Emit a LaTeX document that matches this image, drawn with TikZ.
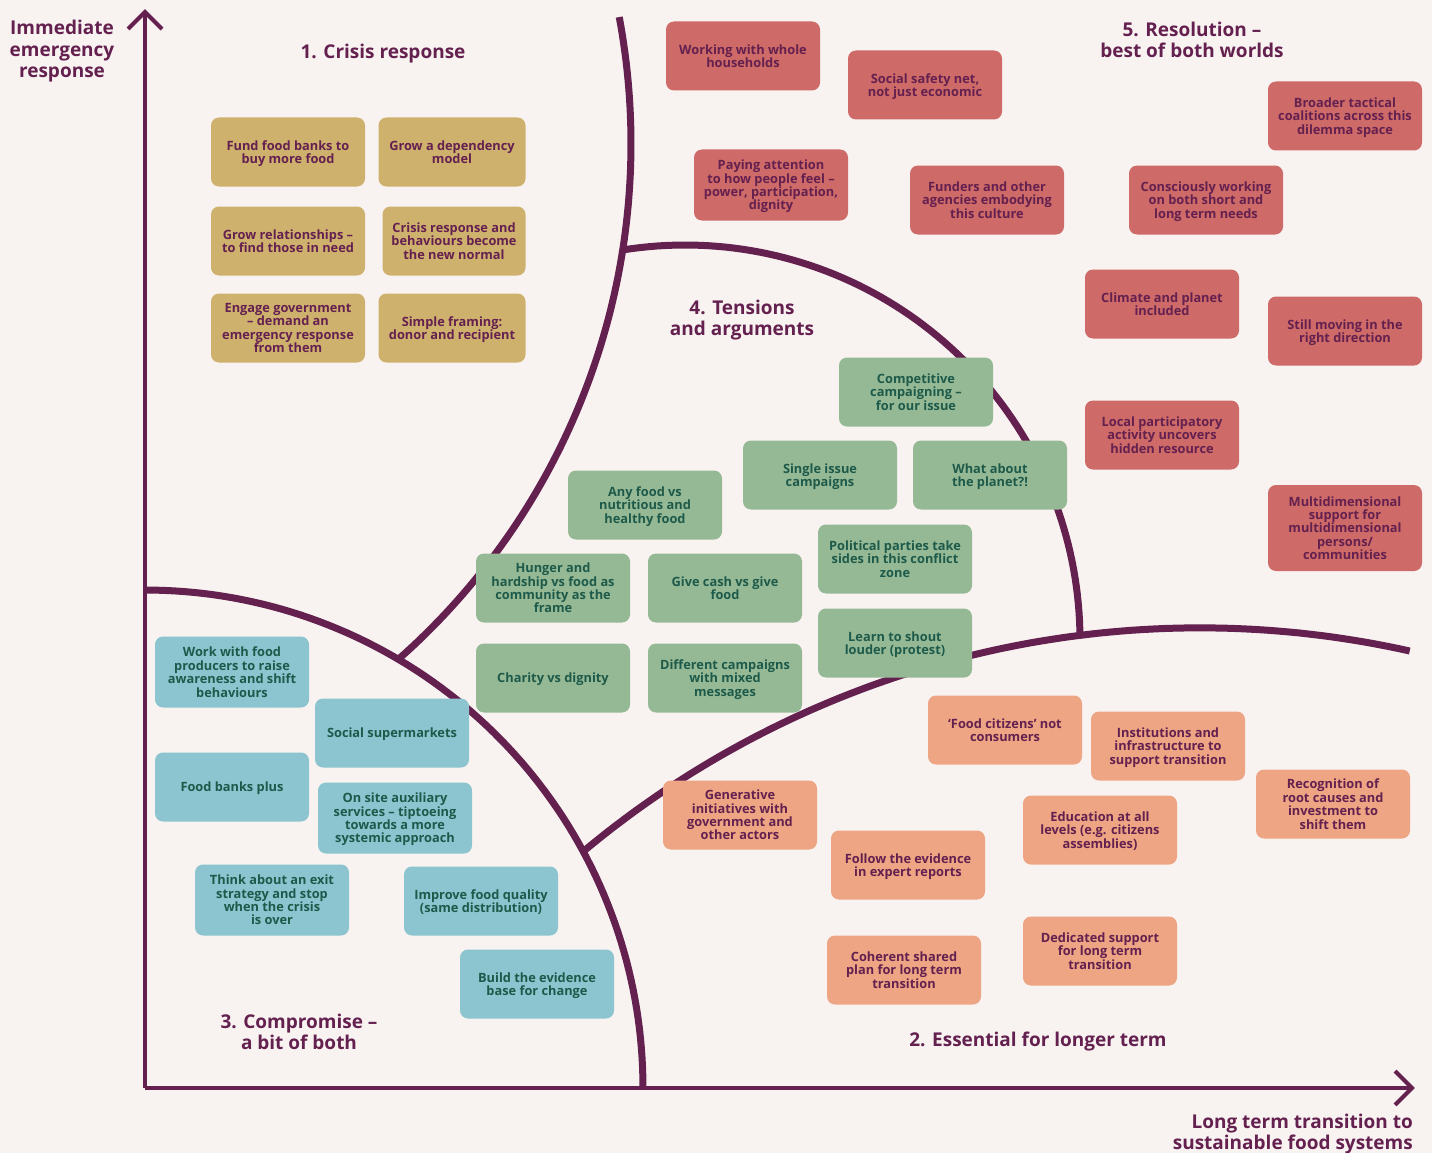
\documentclass[tikz,border=0pt]{standalone}
\usepackage{fontspec}
\setmainfont{Open Sans}
\usetikzlibrary{calc}
\definecolor{bgc}{HTML}{F8F3F1}
\definecolor{cpurple}{HTML}{64204F}
\definecolor{cgold}{HTML}{CFB16E}
\definecolor{cred}{HTML}{CE6A67}
\definecolor{cgreen}{HTML}{96B995}
\definecolor{cblue}{HTML}{8CC5D0}
\definecolor{corange}{HTML}{EDA583}
\definecolor{cdgreen}{HTML}{1D5A4A}
\begin{document}
\begin{tikzpicture}[x=1pt,y=-1pt,
  box/.style={rounded corners=8pt, minimum width=154pt, minimum height=69pt, align=center, inner sep=0pt,
    text depth=-3pt, font=\bfseries\fontsize{12.8}{13.4}\selectfont},
  goldbox/.style={box, fill=cgold, text=cpurple},
  redbox/.style={box, fill=cred, text=cpurple},
  greenbox/.style={box, fill=cgreen, text=cdgreen},
  bluebox/.style={box, fill=cblue, text=cdgreen},
  orangebox/.style={box, fill=corange, text=cpurple},
  curve/.style={draw=cpurple, line width=7pt},
  axisline/.style={draw=cpurple, line width=4pt},
  ttl/.style={text=cpurple, align=center, inner sep=0pt, text depth=-1.5pt, font=\bfseries\fontsize{19}{21.5}\selectfont}]
\useasboundingbox[fill=bgc] (0,0) rectangle (1432,1153);

% axes
\coordinate (O) at (145,1088);
\coordinate (ytop) at (145,12);
\coordinate (xend) at (1412,1088);
\draw[axisline] (O) -- (ytop);
\draw[axisline] ($(ytop)+(-17,17)$) -- (ytop) -- ($(ytop)+(17,17)$);
\draw[axisline] (O) -- (xend);
\draw[axisline] ($(xend)+(-17,-17)$) -- (xend) -- ($(xend)+(-17,17)$);

% region boundaries
\draw[curve] plot[domain=-10.6:48.4, samples=80] ({-57+688*cos(\x)}, {143.6+688*sin(\x)});
\draw[curve] plot[domain=-90:0, samples=80] ({145+498*cos(\x)}, {1088+498*sin(\x)});
\draw[curve] plot[domain=-99:-0.3, samples=80] ({685+395*cos(\x)}, {640+395*sin(\x)});
\draw[curve] plot[domain=-130:-77.4, samples=80] ({1199.9+962*cos(\x)}, {1589.8+962*sin(\x)});

% titles
\node[ttl] (tY) at (62,49) {Immediate\\emergency\\response};
\node[ttl] (t1) at (383,51) {1. Crisis response};
\node[ttl] (t5) at (1192,40) {5. Resolution –\\best of both worlds};
\node[ttl] (t4) at (742,318) {4. Tensions\\and arguments};
\node[ttl] (t3) at (299,1032) {3. Compromise –\\a bit of both};
\node[ttl] (t2) at (1038,1039) {2. Essential for longer term};
\node[ttl, anchor=east, align=right] (tX) at (1413,1132) {Long term transition to\\sustainable food systems};

% 1. crisis response
\node[goldbox] (g1) at (288,152) {Fund food banks to\\buy more food};
\node[goldbox, minimum width=147pt] (g2) at (452,152) {Grow a dependency\\model};
\node[goldbox] (g3) at (288,241) {Grow relationships –\\to find those in need};
\node[goldbox, minimum width=143pt] (g4) at (454,241) {Crisis response and\\behaviours become\\the new normal};
\node[goldbox] (g5) at (288,328) {Engage government\\– demand an\\emergency response\\from them};
\node[goldbox, minimum width=147pt] (g6) at (452,328) {Simple framing:\\donor and recipient};

% 5. resolution
\node[redbox] (r1) at (743,56) {Working with whole\\households};
\node[redbox] (r2) at (925,85) {Social safety net,\\not just economic};
\node[redbox, minimum height=71pt] (r3) at (771,185) {Paying attention\\to how people feel –\\power, participation,\\dignity};
\node[redbox] (r4) at (987,200) {Funders and other\\agencies embodying\\this culture};
\node[redbox] (r5) at (1345,116) {Broader tactical\\coalitions across this\\dilemma space};
\node[redbox] (r6) at (1206,200) {Consciously working\\on both short and\\long term needs};
\node[redbox] (r7) at (1162,304) {Climate and planet\\included};
\node[redbox] (r8) at (1345,331) {Still moving in the\\right direction};
\node[redbox] (r9) at (1162,435) {Local participatory\\activity uncovers\\hidden resource};
\node[redbox, minimum height=86pt] (r10) at (1345,528) {Multidimensional\\support for\\multidimensional\\persons/\\communities};

% 4. tensions
\node[greenbox] (n1) at (916,392) {Competitive\\campaigning –\\for our issue};
\node[greenbox] (n2) at (820,475) {Single issue\\campaigns};
\node[greenbox] (n3) at (990,475) {What about\\the planet?!};
\node[greenbox] (n4) at (645,505) {Any food vs\\nutritious and\\healthy food};
\node[greenbox] (n5) at (895,559) {Political parties take\\sides in this conflict\\zone};
\node[greenbox] (n6) at (553,588) {Hunger and\\hardship vs food as\\community as the\\frame};
\node[greenbox] (n7) at (725,588) {Give cash vs give\\food};
\node[greenbox] (n8) at (895,643) {Learn to shout\\louder (protest)};
\node[greenbox] (n9) at (553,678) {Charity vs dignity};
\node[greenbox] (n10) at (725,678) {Different campaigns\\with mixed\\messages};

% 3. compromise
\node[bluebox, minimum height=71pt] (b1) at (232,672) {Work with food\\producers to raise\\awareness and shift\\behaviours};
\node[bluebox] (b2) at (392,733) {Social supermarkets};
\node[bluebox] (b3) at (232,787) {Food banks plus};
\node[bluebox, minimum height=71pt] (b4) at (395,818) {On site auxiliary\\services – tiptoeing\\towards a more\\systemic approach};
\node[bluebox, minimum height=71pt] (b5) at (272,900) {Think about an exit\\strategy and stop\\when the crisis\\is over};
\node[bluebox] (b6) at (481,901) {Improve food quality\\(same distribution)};
\node[bluebox] (b7) at (537,984) {Build the evidence\\base for change};

% 2. essential for longer term
\node[orangebox] (o1) at (1005,730) {‘Food citizens’ not\\consumers};
\node[orangebox] (o2) at (1168,746) {Institutions and\\infrastructure to\\support transition};
\node[orangebox] (o3) at (1333,804) {Recognition of\\root causes and\\investment to\\shift them};
\node[orangebox] (o4) at (740,815) {Generative\\initiatives with\\government and\\other actors};
\node[orangebox] (o5) at (1100,830) {Education at all\\levels (e.g. citizens\\assemblies)};
\node[orangebox] (o6) at (908,865) {Follow the evidence\\in expert reports};
\node[orangebox] (o7) at (904,970) {Coherent shared\\plan for long term\\transition};
\node[orangebox] (o8) at (1100,951) {Dedicated support\\for long term\\transition};
\end{tikzpicture}
\end{document}
